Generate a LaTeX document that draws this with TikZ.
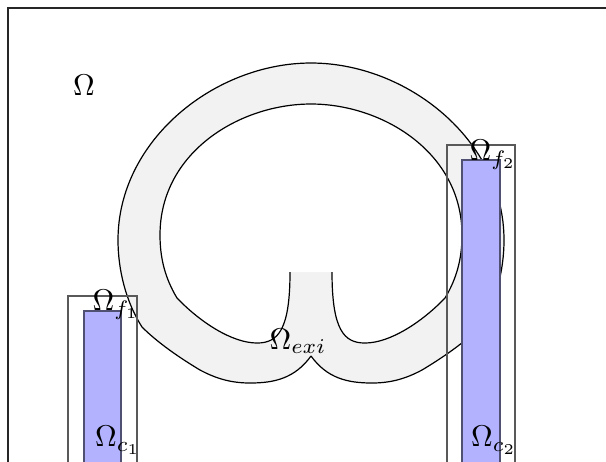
\documentclass[tikz,border=0pt]{standalone}
\usepackage{amsmath}
\usepackage{tikz}
\usetikzlibrary{positioning}
\definecolor{coilline}{RGB}{80,80,115}
\tikzset{
    frame/.style={draw=black!85, line width=0.5pt},
    ringfill/.style={fill=gray!10, draw=none},
    wall/.style={draw=black, line width=0.4pt},
    fluidbox/.style={draw=black!65, line width=0.5pt},
    coilbox/.style={fill=blue!30, draw=coilline, line width=0.6pt},
    lbl/.style={inner sep=0pt, font=\normalsize},
}
\begin{document}
\begin{tikzpicture}[x=0.3333pt, y=-0.3333pt]
    \useasboundingbox (0,0) rectangle (606,461);
    \clip (0,0) rectangle (606,461);
    % outer domain
    \draw[frame] (8,8) rectangle (640,490);
    % ring: outer wall, filled
    \path[ringfill] (311,356) .. controls (295,378) and (275,383) .. (250,383)
        .. controls (230,383) and (215,378) .. (200,370)
        .. controls (180,358) and (158,343) .. (142,327)
        .. controls (126,302) and (118,270) .. (118,240)
        .. controls (118,140) and (215,63) .. (311,63)
        .. controls (407,63) and (504,140) .. (504,240)
        .. controls (504,270) and (496,302) .. (480,327)
        .. controls (464,343) and (442,358) .. (422,370)
        .. controls (407,378) and (392,383) .. (372,383)
        .. controls (347,383) and (327,378) .. (311,356) -- cycle;
    % ring: inner hole
    \fill[white] (290,272) .. controls (290,330) and (278,343) .. (257,343)
        .. controls (232,343) and (200,322) .. (177,298)
        .. controls (165,278) and (160,258) .. (160,235)
        .. controls (160,152) and (240,104) .. (311,104)
        .. controls (382,104) and (462,152) .. (462,235)
        .. controls (462,258) and (457,278) .. (445,298)
        .. controls (422,322) and (390,343) .. (365,343)
        .. controls (344,343) and (332,330) .. (332,272) -- cycle;
    \draw[wall] (290,272) .. controls (290,330) and (278,343) .. (257,343)
        .. controls (232,343) and (200,322) .. (177,298)
        .. controls (165,278) and (160,258) .. (160,235)
        .. controls (160,152) and (240,104) .. (311,104)
        .. controls (382,104) and (462,152) .. (462,235)
        .. controls (462,258) and (457,278) .. (445,298)
        .. controls (422,322) and (390,343) .. (365,343)
        .. controls (344,343) and (332,330) .. (332,272);
    \draw[wall] (311,356) .. controls (295,378) and (275,383) .. (250,383)
        .. controls (230,383) and (215,378) .. (200,370)
        .. controls (180,358) and (158,343) .. (142,327)
        .. controls (126,302) and (118,270) .. (118,240)
        .. controls (118,140) and (215,63) .. (311,63)
        .. controls (407,63) and (504,140) .. (504,240)
        .. controls (504,270) and (496,302) .. (480,327)
        .. controls (464,343) and (442,358) .. (422,370)
        .. controls (407,378) and (392,383) .. (372,383)
        .. controls (347,383) and (327,378) .. (311,356);
    % fluid boxes and coils
    \draw[fluidbox] (68,296) rectangle (137,490);
    \draw[coilbox] (84,311) rectangle (121,490);
    \draw[fluidbox] (447,145) rectangle (515,490);
    \draw[coilbox] (462,160) rectangle (500,490);
    % labels
    \node[lbl] (om) at (84,85) {$\Omega$};
    \node[lbl] (exi) at (298,341) {$\Omega_{exi}$};
    \node[lbl] (f1) at (116,305) {$\Omega_{f_1}$};
    \node[lbl] (c1) at (118,440) {$\Omega_{c_1}$};
    \node[lbl] (f2) at (493,155) {$\Omega_{f_2}$};
    \node[lbl] (c2) at (494,440) {$\Omega_{c_2}$};
\end{tikzpicture}
\end{document}
